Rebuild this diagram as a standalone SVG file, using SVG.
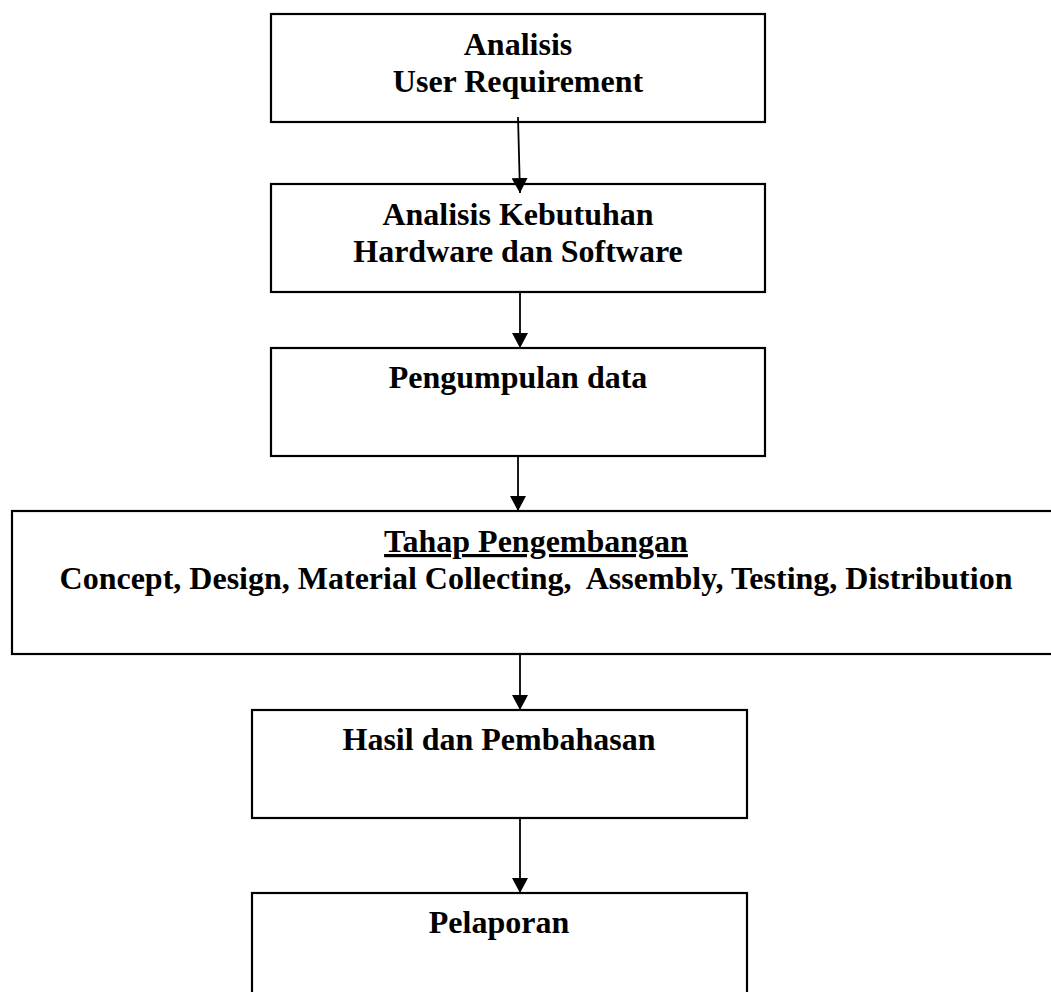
<svg xmlns="http://www.w3.org/2000/svg" width="1051" height="992" viewBox="0 0 1051 992">
<defs>
<style>
.box{fill:#fff;stroke:#000;stroke-width:2.2}
.t{font-family:"Liberation Serif","Times New Roman",serif;font-weight:bold;font-size:32px;fill:#000;text-anchor:middle}
.c{stroke:#000;stroke-width:1.8;fill:none;marker-end:url(#ah)}
</style>
<marker id="ah" markerUnits="userSpaceOnUse" viewBox="0 0 15 16" markerWidth="15" markerHeight="16" refX="15" refY="8" orient="auto">
<path d="M0,0 L15,8 L0,16 z" fill="#000"/>
</marker>
</defs>
<rect width="1051" height="992" fill="#fff"/>
<g id="n1">
<rect class="box" x="271" y="14" width="494" height="108"/>
<text class="t" x="518" y="55">Analisis</text>
<text class="t" x="518" y="92">User Requirement</text>
</g>
<g id="n2">
<rect class="box" x="271" y="184" width="494" height="108"/>
<text class="t" x="518" y="225">Analisis Kebutuhan</text>
<text class="t" x="518" y="262">Hardware dan Software</text>
</g>
<g id="n3">
<rect class="box" x="271" y="348" width="494" height="108"/>
<text class="t" x="518" y="388">Pengumpulan data</text>
</g>
<g id="n4">
<rect class="box" x="12" y="511" width="1049" height="143"/>
<text class="t" x="536" y="552" text-decoration="underline">Tahap Pengembangan</text>
<text class="t" x="536" y="589" xml:space="preserve">Concept, Design, Material Collecting,  Assembly, Testing, Distribution</text>
</g>
<g id="n5">
<rect class="box" x="252" y="710" width="495" height="108"/>
<text class="t" x="499" y="750">Hasil dan Pembahasan</text>
</g>
<g id="n6">
<rect class="box" x="252" y="893" width="495" height="110"/>
<text class="t" x="499" y="933">Pelaporan</text>
</g>
<g id="connectors">
<line class="c" x1="518" y1="117" x2="520" y2="193"/>
<line class="c" x1="520" y1="292" x2="520" y2="348"/>
<line class="c" x1="518" y1="456" x2="518" y2="511"/>
<line class="c" x1="520" y1="654" x2="520" y2="710"/>
<line class="c" x1="520" y1="818" x2="520" y2="893"/>
</g>
</svg>
